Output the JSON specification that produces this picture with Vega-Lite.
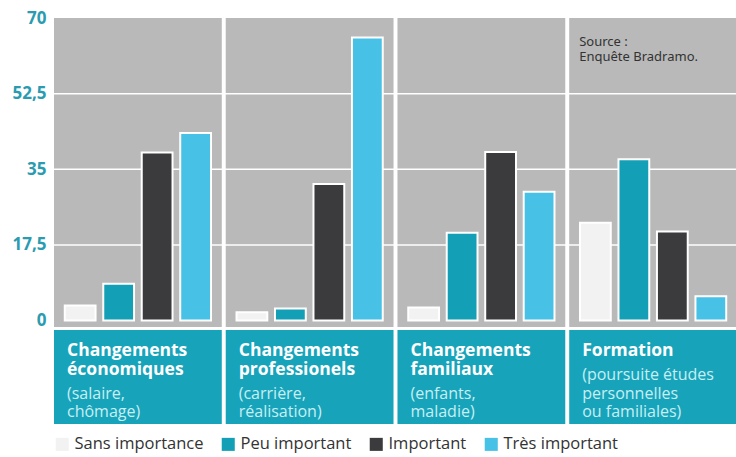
{
  "$schema": "https://vega.github.io/schema/vega-lite/v6.json",
  "padding": {"left": 11, "top": 9, "right": 0, "bottom": 0},
  "background": "white",
  "config": {"view": {"stroke": null}, "font": "Open Sans", "concat": {"spacing": 1}, "legend": {"padding": 0}},
  "datasets": {
    "valeurs": [
      {"theme": "Changements économiques", "importance": "Sans importance", "pct": 3.5},
      {"theme": "Changements économiques", "importance": "Peu important", "pct": 8.5},
      {"theme": "Changements économiques", "importance": "Important", "pct": 38.9},
      {"theme": "Changements économiques", "importance": "Très important", "pct": 43.4},
      {"theme": "Changements professionels", "importance": "Sans importance", "pct": 1.9},
      {"theme": "Changements professionels", "importance": "Peu important", "pct": 2.8},
      {"theme": "Changements professionels", "importance": "Important", "pct": 31.6},
      {"theme": "Changements professionels", "importance": "Très important", "pct": 65.5},
      {"theme": "Changements familiaux", "importance": "Sans importance", "pct": 3.0},
      {"theme": "Changements familiaux", "importance": "Peu important", "pct": 20.3},
      {"theme": "Changements familiaux", "importance": "Important", "pct": 39.0},
      {"theme": "Changements familiaux", "importance": "Très important", "pct": 29.8},
      {"theme": "Formation", "importance": "Sans importance", "pct": 22.6},
      {"theme": "Formation", "importance": "Peu important", "pct": 37.3},
      {"theme": "Formation", "importance": "Important", "pct": 20.6},
      {"theme": "Formation", "importance": "Très important", "pct": 5.6}
    ],
    "themes": [
      {"theme": "Changements économiques", "titre": ["Changements", "économiques"], "detail": ["(salaire,", "chômage)"]},
      {"theme": "Changements professionels", "titre": ["Changements", "professionels"], "detail": ["(carrière,", "réalisation)"]},
      {"theme": "Changements familiaux", "titre": ["Changements", "familiaux"], "detail": ["(enfants,", "maladie)"]},
      {"theme": "Formation", "titre": ["Formation"], "detail": ["(poursuite études", "personnelles", "ou familiales)"]}
    ],
    "grille": [{"v": 17.5}, {"v": 35}, {"v": 52.5}],
    "source": [{"theme": "Formation", "texte": ["Source :", "Enquête Bradramo."]}]
  },
  "vconcat": [
    {
      "width": 683,
      "height": 309,
      "layer": [
        {
          "data": {"name": "themes"},
          "mark": {"type": "bar", "color": "#b9b9b9"},
          "encoding": {
            "x": {"field": "theme", "type": "nominal", "sort": ["Changements économiques", "Changements professionels", "Changements familiaux", "Formation"], "scale": {"paddingInner": 0.023, "paddingOuter": 0}, "axis": null},
            "y": {"datum": 70, "type": "quantitative", "scale": {"domain": [-1.5, 70], "nice": false, "zero": false},
              "axis": {"values": [0, 17.5, 35, 52.5, 70], "labelExpr": "replace(format(datum.value, '~g'), '.', ',')", "domain": false, "ticks": false, "grid": false, "labelFont": "Open Sans", "labelFontWeight": "bold", "labelFontSize": 17, "labelColor": "#2b9bb0", "labelPadding": 8, "title": null}},
            "y2": {"datum": -1.5}
          }
        },
        {
          "data": {"name": "grille"},
          "mark": {"type": "rule", "color": "white", "strokeWidth": 1.5},
          "encoding": {"y": {"field": "v", "type": "quantitative"}}
        },
        {
          "data": {"name": "valeurs"},
          "mark": {"type": "bar", "stroke": "white", "strokeWidth": 2},
          "encoding": {
            "x": {"field": "theme", "type": "nominal", "sort": ["Changements économiques", "Changements professionels", "Changements familiaux", "Formation"], "axis": null},
            "xOffset": {"field": "importance", "type": "nominal", "sort": ["Sans importance", "Peu important", "Important", "Très important"], "scale": {"paddingInner": 0.2, "paddingOuter": 0.28}},
            "y": {"field": "pct", "type": "quantitative"},
            "y2": {"datum": 0},
            "color": {"field": "importance", "type": "nominal",
              "scale": {"domain": ["Sans importance", "Peu important", "Important", "Très important"], "range": ["#f2f2f2", "#13a0b7", "#3b3b3d", "#48c1e6"]},
              "legend": {"orient": "bottom", "direction": "horizontal", "title": null, "symbolType": "square", "symbolSize": 170, "symbolStrokeWidth": 0, "labelFont": "Open Sans", "labelFontSize": 16.5, "labelLimit": 0, "labelColor": "#333333", "columnPadding": 16, "offset": 12}}
          }
        },
        {
          "data": {"name": "source"},
          "mark": {"type": "text", "align": "left", "baseline": "alphabetic", "dx": 10, "fontSize": 13, "lineHeight": 15, "color": "#333333", "font": "Noto Sans"},
          "encoding": {
            "x": {"field": "theme", "type": "nominal", "bandPosition": 0, "sort": ["Changements économiques", "Changements professionels", "Changements familiaux", "Formation"], "axis": null},
            "y": {"datum": 63.5},
            "text": {"field": "texte"}
          }
        }
      ]
    },
    {
      "width": 683,
      "height": 94,
      "data": {"name": "themes"},
      "layer": [
        {
          "mark": {"type": "bar", "color": "#17a4ba"},
          "encoding": {
            "x": {"field": "theme", "type": "nominal", "sort": ["Changements économiques", "Changements professionels", "Changements familiaux", "Formation"], "scale": {"paddingInner": 0.023, "paddingOuter": 0}, "axis": null}
          }
        },
        {
          "mark": {"type": "text", "align": "left", "baseline": "alphabetic", "dx": 13, "font": "Open Sans", "fontWeight": "bold", "fontSize": 17.5, "lineHeight": 19, "color": "white"},
          "encoding": {
            "x": {"field": "theme", "type": "nominal", "bandPosition": 0, "sort": ["Changements économiques", "Changements professionels", "Changements familiaux", "Formation"], "axis": null},
            "y": {"value": 26},
            "text": {"field": "titre"}
          }
        },
        {
          "mark": {"type": "text", "align": "left", "baseline": "alphabetic", "dx": 13, "font": "Open Sans", "fontSize": 16, "lineHeight": 18.5, "color": "#c8eef4"},
          "encoding": {
            "x": {"field": "theme", "type": "nominal", "bandPosition": 0, "sort": ["Changements économiques", "Changements professionels", "Changements familiaux", "Formation"], "axis": null},
            "y": {"value": {"expr": "87 - 18.5 * (length(datum.detail) - 1)"}},
            "text": {"field": "detail"}
          }
        }
      ]
    }
  ]
}
